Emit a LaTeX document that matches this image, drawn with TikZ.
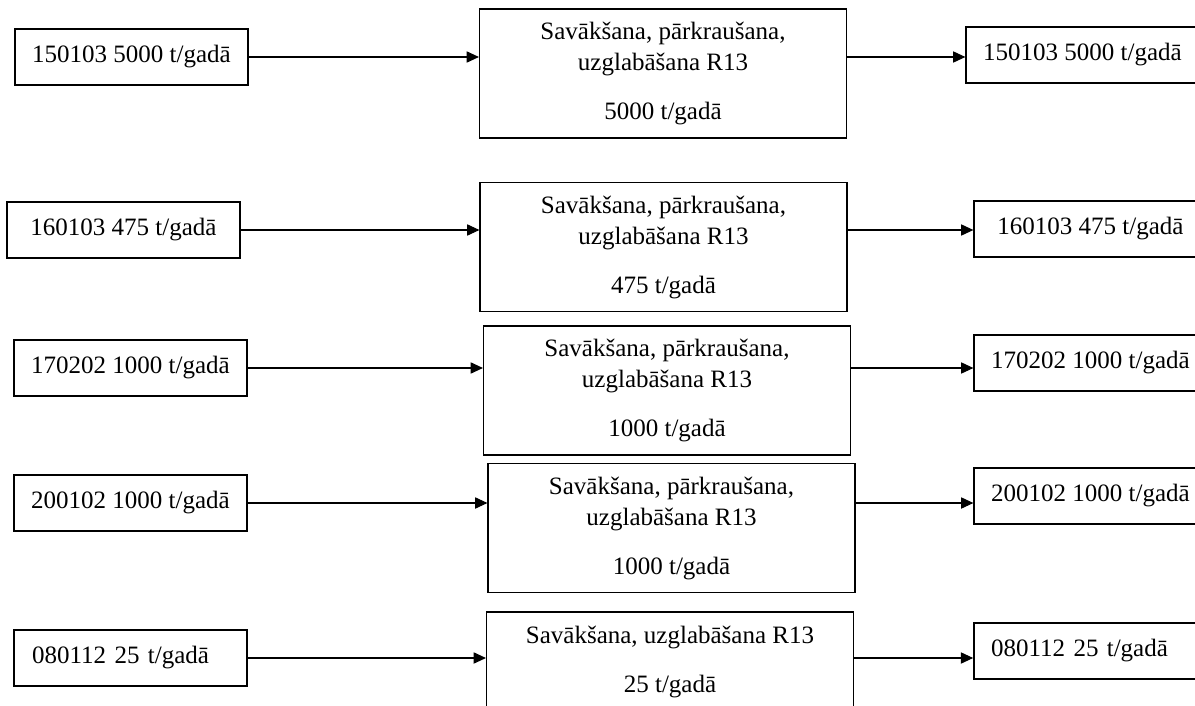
\documentclass[tikz,border=0pt]{standalone}
\usepackage{fontspec}
\setmainfont{Liberation Serif}
\usetikzlibrary{arrows.meta, positioning}

\begin{document}
\begin{tikzpicture}[
    x=0.49pt, y=-0.49pt, % 1 unit = 1 px of the page
    font=\fontsize{12.25}{15.2}\selectfont,
    wastebox/.style={
      rectangle,
      draw,
      line width=0.8pt,
      minimum width=114pt,
      minimum height=27.4pt,
      inner sep=0pt,
      align=center
    },
    procbox/.style={
      rectangle,
      draw,
      line width=0.6pt,
      minimum width=179.8pt,
      minimum height=63.2pt,
      align=center
    },
    arrow/.style={
      -{Triangle[length=6pt,width=5.5pt]},
      line width=0.5pt
    }
  ]

  \useasboundingbox (0,0) rectangle (1195,706);

  % Left column - incoming waste
  \node[wastebox] (in1) at (131.5,57) {150103 5000 t/gadā};
  \node[wastebox] (in2) at (123.5,230) {160103 475 t/gadā};
  \node[wastebox] (in3) at (130.5,368) {170202 1000 t/gadā};
  \node[wastebox] (in4) at (130.5,503) {200102 1000 t/gadā};
  \node[wastebox, align=left, text width=96.4pt, inner xsep=8.8pt] (in5) at (130.5,658) {080112 25 t/gadā};

  % Middle column - R13 operations
  \node[procbox] (mid1) at (663,73.5) {Savākšana, pārkraušana,\\uzglabāšana R13\\[8.8pt]5000 t/gadā};
  \node[procbox] (mid2) at (663.5,247) {Savākšana, pārkraušana,\\uzglabāšana R13\\[8.8pt]475 t/gadā};
  \node[procbox] (mid3) at (667,390.5) {Savākšana, pārkraušana,\\uzglabāšana R13\\[8.8pt]1000 t/gadā};
  \node[procbox] (mid4) at (671.5,528) {Savākšana, pārkraušana,\\uzglabāšana R13\\[8.8pt]1000 t/gadā};
  \node[procbox, minimum height=49pt] (mid5) at (670,662) {Savākšana, uzglabāšana R13\\[8.8pt]25 t/gadā};

  % Right column - outgoing waste (cut by the page edge)
  \node[wastebox] (out1) at (1082.5,55) {150103 5000 t/gadā};
  \node[wastebox] (out2) at (1090.5,229) {160103 475 t/gadā};
  \node[wastebox] (out3) at (1090.5,363) {170202 1000 t/gadā};
  \node[wastebox] (out4) at (1090.5,496) {200102 1000 t/gadā};
  \node[wastebox, align=left, text width=97.4pt, inner xsep=8.4pt] (out5) at (1090.5,651) {080112 25 t/gadā};

  % Arrows
  \draw[arrow] (in1) -- (in1 -| mid1.west);
  \draw[arrow] (in2) -- (in2 -| mid2.west);
  \draw[arrow] (in3) -- (in3 -| mid3.west);
  \draw[arrow] (in4) -- (in4 -| mid4.west);
  \draw[arrow] (in5) -- (in5 -| mid5.west);
  \draw[arrow] (in1 -| mid1.east) -- (in1 -| out1.west);
  \draw[arrow] (in2 -| mid2.east) -- (in2 -| out2.west);
  \draw[arrow] (in3 -| mid3.east) -- (in3 -| out3.west);
  \draw[arrow] (in4 -| mid4.east) -- (in4 -| out4.west);
  \draw[arrow] (in5 -| mid5.east) -- (in5 -| out5.west);

\end{tikzpicture}
\end{document}
